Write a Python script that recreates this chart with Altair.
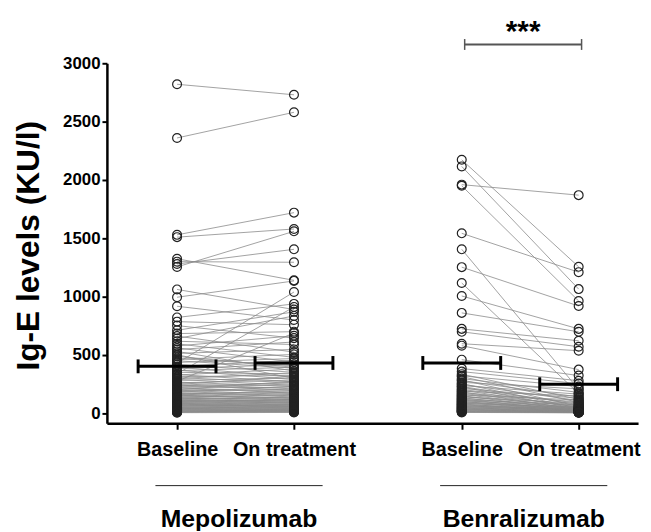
import altair as alt
import pandas as pd

# ---------------- data ----------------
groups = ["Mepolizumab", "Benralizumab"]
timepoints = ["Baseline", "On treatment"]

mep_base = [2820, 2360, 1530, 1510, 1325, 1300, 1280, 1255,
            1062, 995, 918, 822, 786, 752, 712, 684, 662, 641, 618, 596,
            578, 561, 547, 531, 514, 502, 489, 471,
            463, 451, 437, 430, 418, 402, 396, 384, 371, 366,
            352, 340, 333, 329, 315, 307, 298, 291, 283, 276,
            268, 262, 255, 247, 243, 236, 228, 222, 217, 209,
            203, 199, 192, 188, 181, 176, 170, 167, 160, 156,
            151, 147, 141, 137, 133, 128, 125, 118, 114, 110,
            106, 103, 98, 95, 91, 86, 83, 79, 75, 72,
            68, 65, 60, 57, 53, 50, 47, 43, 40, 36,
            33, 29, 26, 23, 20, 17, 14, 12, 9, 6]
mep_on = [2730, 2580, 1720, 1580, 1140, 1295, 1406, 1560,
          890, 1135, 800, 938, 760, 645, 870, 700, 525, 835, 590, 480,
          665, 440, 612, 362, 548, 300, 395, 408,
          505, 388, 470, 1040, 352, 455, 310, 420, 290, 395,
          338, 912, 270, 380, 325, 262, 348, 240, 302, 688,
          231, 285, 210, 318, 198, 260, 245, 172, 225, 190,
          276, 160, 208, 150, 232, 141, 180, 126, 195, 118,
          170, 135, 112, 158, 102, 122, 92, 140, 85, 110,
          99, 76, 120, 71, 88, 64, 97, 58, 80, 52,
          69, 47, 75, 41, 60, 36, 55, 30, 48, 27,
          40, 22, 33, 19, 28, 15, 24, 11, 18, 8]

ben_base = [2173, 2116, 1960, 1950, 1543, 1406, 1253, 1117, 1006, 861,
            724, 699, 597, 580, 460, 384, 358,
            336, 322, 315, 298, 287, 281, 266, 255, 249, 238,
            230, 226, 214, 205, 199, 190, 186, 177, 171, 164,
            158, 152, 146, 141, 134, 130, 123, 118, 115, 108,
            104, 99, 95, 90, 86, 81, 77, 73, 69, 64,
            61, 56, 52, 49, 45, 41, 37, 34, 30, 27,
            23, 20, 17, 14, 11, 8]
ben_on = [1256, 1065, 1870, 963, 1210, 205, 920, 170, 724, 699,
          622, 571, 537, 375, 324, 280, 255,
          120, 230, 95, 180, 60, 140, 210, 45, 110, 165,
          75, 38, 130, 88, 52, 150, 30, 98, 70, 40,
          115, 25, 62, 85, 35, 48, 20, 72, 28, 55,
          18, 42, 33, 24, 50, 15, 30, 22, 12, 36,
          19, 26, 10, 21, 14, 17, 9, 13, 11, 16,
          8, 12, 7, 10, 6, 5]

# central bars (per group: Baseline, On treatment)
bar_values = [[403, 432], [432, 250]]
y_ticks = [0, 500, 1000, 1500, 2000, 2500, 3000]
y_title = "Ig-E levels (KU/l)"
sig_label = "***"

# ---------------- tables ----------------
series = [(mep_base, mep_on), (ben_base, ben_on)]
pair_rows = []
for gi, (b, o) in enumerate(series):
    for k, (vb, vo) in enumerate(zip(b, o)):
        pair_rows.append({"group": groups[gi], "gi": gi, "pid": f"{gi}-{k}",
                          "base": vb, "on": vo})
pairs = pd.DataFrame(pair_rows)
long = pairs.melt(id_vars=["group", "gi", "pid"], value_vars=["base", "on"],
                  var_name="t", value_name="value")
long["ti"] = (long["t"] == "on").astype(int)

bars = pd.DataFrame([{"gi": gi, "ti": ti, "value": bar_values[gi][ti]}
                     for gi in range(2) for ti in range(2)])
group_df = pd.DataFrame({"gi": [0, 1], "group": groups})
sig_df = pd.DataFrame({"gi": [1], "label": [sig_label]})

GAP = 2.435    # distance between group baselines, in category steps
HALF = 0.333   # half width of the central bar, in category steps
FONT = "Liberation Sans"

xscale = alt.Scale(domain=[-0.6, 3.943], nice=False, zero=False)
yscale = alt.Scale(domain=[-85, 3000], nice=False, zero=False)

x_axis = alt.Axis(
    values=[0, 1, GAP, GAP + 1],
    labelExpr=(f"(datum.value - floor(datum.value/{GAP})*{GAP}) < 0.5 ? "
               f"'{timepoints[0]}' : '{timepoints[1]}'"),
    title=None, grid=False, domainColor="black", domainWidth=2.5,
    tickColor="black", tickWidth=2, tickSize=6,
    labelFont=FONT, labelFontSize=20, labelFontWeight="bold", labelColor="black",
    labelPadding=11, labelOverlap=False, labelFlush=False,
)
y_axis = alt.Axis(
    values=y_ticks, format="d", title=y_title, grid=False,
    domainColor="black", domainWidth=2.5,
    tickColor="black", tickWidth=2, tickSize=5,
    labelFont=FONT, labelFontSize=17, labelFontWeight="bold", labelColor="black",
    labelPadding=2,
    titleFont=FONT, titleFontSize=32, titleFontWeight="bold", titleColor="black",
    titleX=-79, titleY=184, titleAngle=270, titleAlign="center", titleBaseline="middle",
)

def X(field):
    return alt.X(field, type="quantitative", scale=xscale, axis=x_axis)

def Y(field):
    return alt.Y(field, type="quantitative", scale=yscale, axis=y_axis)

lines = alt.Chart(pairs).transform_calculate(
    xb=f"datum.gi*{GAP}", xo=f"datum.gi*{GAP} + 1"
).mark_rule(color="#8a8a8a", strokeWidth=0.8).encode(
    x=X("xb"), x2="xo:Q", y=Y("base"), y2="on:Q"
)

points = alt.Chart(long).transform_calculate(
    pos=f"datum.gi*{GAP} + datum.ti"
).mark_point(shape="circle", filled=False, size=80, color="#222222",
             strokeWidth=1.2, opacity=1).encode(
    x=X("pos"), y=Y("value")
)

bar_base = alt.Chart(bars).transform_calculate(
    pos=f"datum.gi*{GAP} + datum.ti",
    xl=f"datum.gi*{GAP} + datum.ti - {HALF}",
    xr=f"datum.gi*{GAP} + datum.ti + {HALF}",
)
bar_rule = bar_base.mark_rule(color="black", strokeWidth=3).encode(
    x=X("xl"), x2="xr:Q", y=Y("value")
)
bar_caps = bar_base.transform_fold(["xl", "xr"], as_=["side", "cx"]).mark_tick(
    orient="vertical", size=14, thickness=3, color="black", opacity=1
).encode(x=X("cx"), y=Y("value"))

sig_base = alt.Chart(sig_df).transform_calculate(
    xa=f"datum.gi*{GAP} + 0.025", xbb=f"datum.gi*{GAP} + 1.025",
    xm=f"datum.gi*{GAP} + 0.525"
)
sig_rule = sig_base.mark_rule(color="#555555", strokeWidth=2).encode(
    x=X("xa"), x2="xbb:Q", y=alt.value(-19)
)
sig_ticks = sig_base.transform_fold(["xa", "xbb"], as_=["side", "cx"]).mark_tick(
    orient="vertical", size=11, thickness=1.5, color="#555555", opacity=1
).encode(x=X("cx"), y=alt.value(-19))
sig_text = sig_base.mark_text(font=FONT, fontSize=30, fontWeight="bold",
                              color="black", baseline="middle").encode(
    x=X("xm"), y=alt.value(-32), text="label:N"
)

grp_base = alt.Chart(group_df).transform_calculate(
    xc=f"datum.gi*{GAP} + 0.53",
    gl=f"datum.gi*{GAP} + 0.53 - 0.715",
    gr=f"datum.gi*{GAP} + 0.53 + 0.715",
)
grp_rule = grp_base.mark_rule(color="#222222", strokeWidth=1).encode(
    x=X("gl"), x2="gr:Q", y=alt.value(427)
)
grp_text = grp_base.mark_text(font=FONT, fontSize=25, fontWeight="bold",
                              color="black", baseline="alphabetic").encode(
    x=X("xc"), y=alt.value(469), text="group:N"
)

chart = alt.layer(
    lines, points, bar_rule, bar_caps, sig_rule, sig_ticks, sig_text, grp_rule, grp_text
).properties(
    width=537, height=364,
    padding={"left": 100, "top": 53, "right": 5, "bottom": 106},
    autosize="none",
).configure_view(stroke=None)

chart.save("out.html", embed_options={"renderer": "svg", "actions": False})
